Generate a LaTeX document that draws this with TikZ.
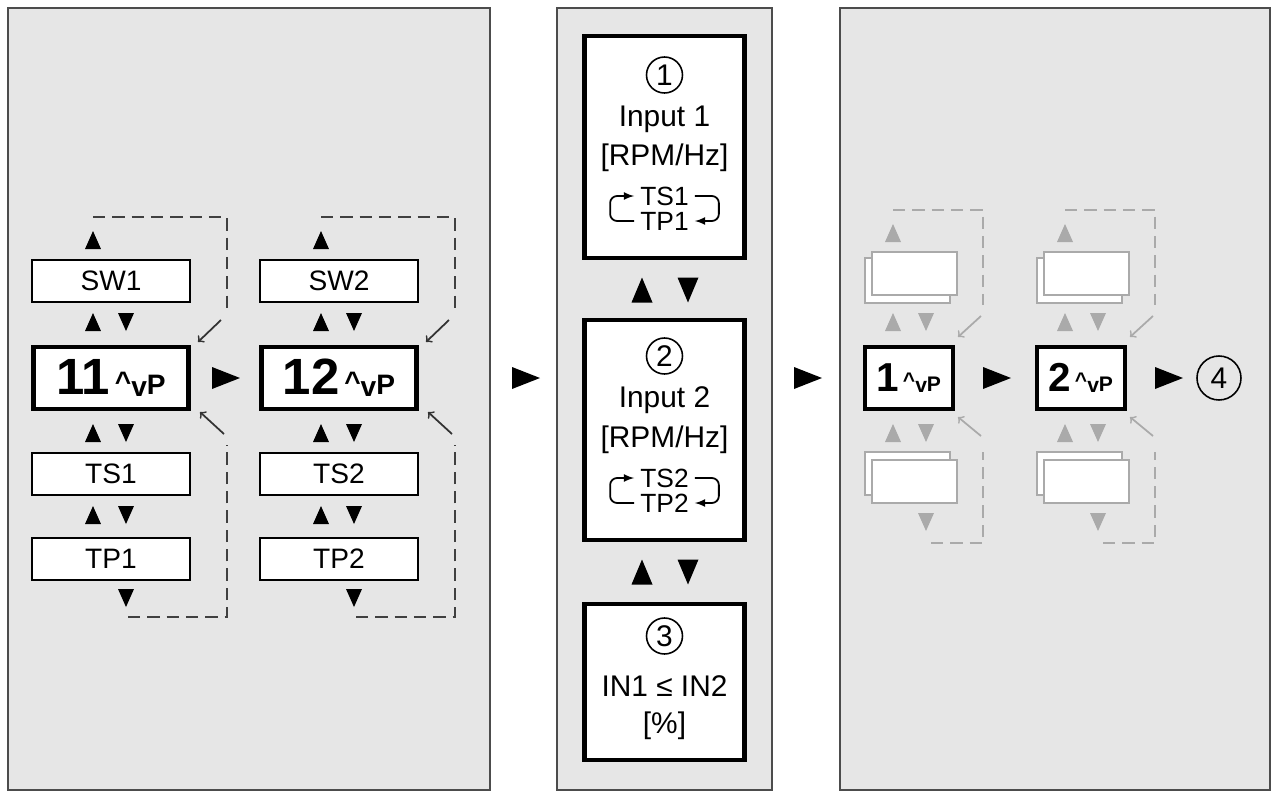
\documentclass[tikz,border=0pt]{standalone}
\usepackage{fontspec}
\setmainfont{Liberation Sans}
\usetikzlibrary{positioning,arrows}

\definecolor{panelgray}{HTML}{E6E6E6}
\definecolor{ghost}{HTML}{AAAAAA}

\tikzset{
  panel/.style={draw=black!70,fill=panelgray,line width=1pt},
  field/.style={draw,fill=white,line width=1.2pt,minimum width=3.16cm,minimum height=0.84cm,inner sep=0pt,font=\fontsize{16}{16}\selectfont},
  mainbox/.style={draw,fill=white,line width=2.4pt,minimum width=3.1cm,minimum height=1.24cm,inner sep=0pt},
  bigbox/.style={draw,fill=white,line width=2.4pt,minimum width=3.2cm,inner sep=0pt},
  num/.style={circle,draw,line width=0.9pt,inner sep=0pt,minimum size=0.72cm,font=\fontsize{17}{17}\selectfont},
  loop/.style={densely dashed,dash pattern=on 7pt off 4pt,line width=1.1pt,black!75},
  back/.style={-to,line width=1pt,black!80},
  pics/up/.style={code={\fill (-0.16cm,-0.18cm) -- (0.16cm,-0.18cm) -- (0cm,0.18cm) -- cycle;}},
  pics/dn/.style={code={\fill (-0.16cm,0.18cm) -- (0.16cm,0.18cm) -- (0cm,-0.18cm) -- cycle;}},
  pics/bigup/.style={code={\fill (-0.21cm,-0.25cm) -- (0.21cm,-0.25cm) -- (0cm,0.25cm) -- cycle;}},
  pics/bigdn/.style={code={\fill (-0.21cm,0.25cm) -- (0.21cm,0.25cm) -- (0cm,-0.25cm) -- cycle;}},
  pics/go/.style={code={\fill (-0.28cm,-0.22cm) -- (-0.28cm,0.22cm) -- (0.28cm,0cm) -- cycle;}}
}

\begin{document}
\begin{tikzpicture}[x=0.02cm,y=-0.02cm]
  \useasboundingbox (0,0) rectangle (1276,795);

  % Panels
  \draw[panel] (8,8) rectangle (490,790);
  \draw[panel] (557,8) rectangle (772,790);
  \draw[panel] (840,8) rectangle (1270,790);

  % Left panel: two channels
  \foreach \n/\dx in {1/0,2/228}{
    \begin{scope}[xshift=\dx*0.02cm]
      \node[field] (sw\n) at (111,281) {SW\n};
      \node[mainbox] (ch\n) at (111,378) {\fontsize{29}{29}\selectfont\bfseries 1\n\fontsize{16}{16}\selectfont\,\raisebox{2pt}{\^{}}\raisebox{-1pt}{v}P};
      \node[field] (ts\n) at (111,474) {TS\n};
      \node[field] (tp\n) at (111,559) {TP\n};
      \pic at (93,240) {up};
      \foreach \y in {322,433,515}{
        \pic at (93,\y) {up};
        \pic at (126,\y) {dn};
      }
      \pic at (126,598) {dn};
      % loops
      \coordinate (t\n a) at (93,217);
      \coordinate (t\n b) at (227,308);
      \coordinate (b\n a) at (128,617);
      \coordinate (b\n b) at (227,445);
      \draw[loop] (t\n a) -| (t\n b);
      \draw[loop] (b\n a) -| (b\n b);
      \draw[back] (221,320) -- (198,342);
      \draw[back] (224,434) -- (200,412);
    \end{scope}
  }
  \pic at (226,378) {go};
  \pic at (526,378) {go};
  \pic at (808,378) {go};

  % Middle panel
  \node[bigbox,minimum height=4.44cm] (in1) at (664.5,147) {};
  \node[num] (n1) at (664.5,75) {1};
  \node[font=\fontsize{17}{17}\selectfont] (lab1) at (664.5,119) {Input 1};
  \node[font=\fontsize{17}{17}\selectfont] (unit1) at (664.5,158) {[RPM/Hz]};
  \node[font=\fontsize{15}{15}\selectfont] (ts) at (664.5,196) {TS1};
  \node[font=\fontsize{15}{15}\selectfont] (tp) at (664.5,221) {TP1};
  \draw[-latex,line width=1pt,rounded corners=4pt] (tp.west) -- ++(-24,0) |- (ts.west);
  \draw[-latex,line width=1pt,rounded corners=4pt] (ts.east) -- ++(24,0) |- (tp.east);

  \node[bigbox,minimum height=4.4cm] (in2) at (664.5,430) {};
  \node[num] (n2) at (664.5,356) {2};
  \node[font=\fontsize{17}{17}\selectfont] (lab2) at (664.5,400) {Input 2};
  \node[font=\fontsize{17}{17}\selectfont] (unit2) at (664.5,440) {[RPM/Hz]};
  \node[font=\fontsize{15}{15}\selectfont] (ts') at (664.5,478) {TS2};
  \node[font=\fontsize{15}{15}\selectfont] (tp') at (664.5,503) {TP2};
  \draw[-latex,line width=1pt,rounded corners=4pt] (tp'.west) -- ++(-24,0) |- (ts'.west);
  \draw[-latex,line width=1pt,rounded corners=4pt] (ts'.east) -- ++(24,0) |- (tp'.east);

  \node[bigbox,minimum height=3.12cm] (in3) at (664.5,682) {};
  \node[num] (n3) at (664.5,636) {3};
  \node[font=\fontsize{17}{17}\selectfont] (lab3) at (664.5,686) {IN1 ≤ IN2};
  \node[font=\fontsize{17}{17}\selectfont] (unit3) at (664.5,726) {[\%]};

  \foreach \y in {290,572}{
    \pic at (642,\y) {bigup};
    \pic at (688,\y) {bigdn};
  }

  % Right panel
  \foreach \n/\dx in {1/0,2/172}{
    \begin{scope}[xshift=\dx*0.02cm]
      \node[mainbox,minimum width=1.76cm] (out\n) at (909,378) {\fontsize{23}{23}\selectfont\bfseries \n\fontsize{12}{12}\selectfont\,\raisebox{2pt}{\^{}}\raisebox{-1pt}{v}P};
      \begin{scope}[ghost,line width=1pt]
        \draw[fill=white] (865,258) rectangle (950,303);
        \draw[fill=white] (872,252) rectangle (957,295);
        \draw[fill=white] (865,452) rectangle (950,495);
        \draw[fill=white] (872,460) rectangle (957,503);
        \pic[fill=ghost] at (893,233) {up};
        \foreach \y in {322,433}{
          \pic[fill=ghost] at (893,\y) {up};
          \pic[fill=ghost] at (926,\y) {dn};
        }
        \pic[fill=ghost] at (926,522) {dn};
        \draw[loop,ghost] (893,210) -| (983,305);
        \draw[loop,ghost] (931,543) -| (983,452);
        \draw[-to,ghost] (981,316) -- (958,337);
        \draw[-to,ghost] (981,436) -- (958,417);
      \end{scope}
    \end{scope}
  }
  \pic at (997,378) {go};
  \pic at (1169,378) {go};
  \node[num,minimum size=0.88cm] (n4) at (1219,378) {4};
\end{tikzpicture}
\end{document}
